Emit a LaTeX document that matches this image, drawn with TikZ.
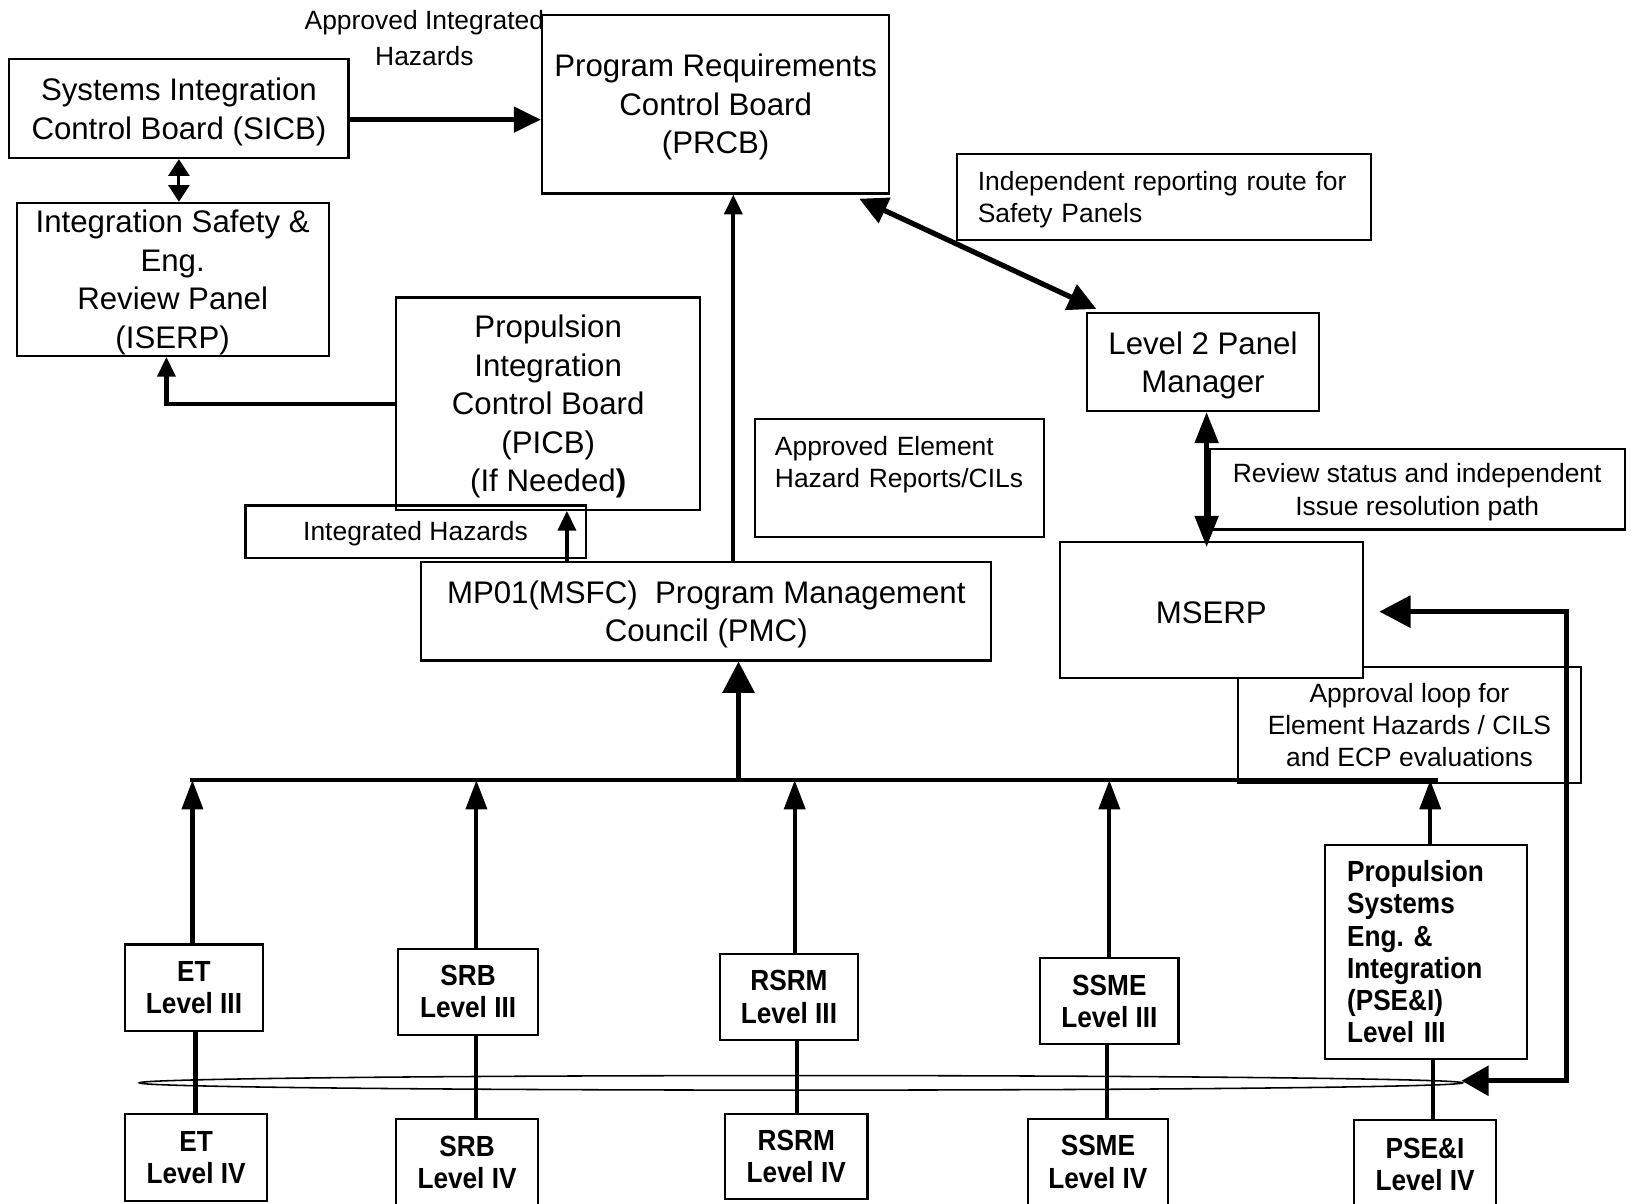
\documentclass[tikz,border=0pt]{standalone}
\usepackage{fontspec}
\setmainfont{Liberation Sans}
\newfontfamily\lvlfont[FakeStretch=0.9]{Liberation Sans Bold}
\usetikzlibrary{arrows.meta,calc}

\newcommand{\bigtxt}{\fontsize{30}{37}\selectfont}
\newcommand{\smalltxt}{\fontsize{25.4}{31}\selectfont}
\newcommand{\lvltxt}{\lvlfont\fontsize{28}{31}\selectfont}

\tikzset{
  lowtext/.style={execute at begin node={\rule{0pt}{#1}}},
  box/.style={draw, line width=2pt, align=center, inner sep=0pt, font=\bigtxt},
  board/.style={box, text depth=-2pt},
  note/.style={draw, line width=2pt, align=center, inner sep=0pt, font=\smalltxt},
  level/.style={draw, line width=2pt, align=center, inner sep=0pt, font=\lvltxt},
  flow/.style={line width=5pt, -{Triangle[length=26pt,width=24pt]}},
  bigflow/.style={line width=5pt, -{Triangle[length=30pt,width=30pt]}},
  upflow/.style={line width=4pt, -{Triangle[length=28pt,width=20pt]}},
  smallflow/.style={line width=4pt, -{Triangle[length=19pt,width=17pt]}},
  twoway/.style={line width=5pt, {Triangle[length=27pt,width=26pt]}-{Triangle[length=27pt,width=26pt]}},
}

\begin{document}
\begin{tikzpicture}[x=1pt, y=-1pt]
\useasboundingbox (0,0) rectangle (1568,1157);

% boards
\node[font=\fontsize{25.4}{35}\selectfont, align=center] (apint) at (408,36.5) {Approved Integrated\\Hazards};
\node[board, minimum width=326pt, minimum height=95pt] (sicb) at (172,104.5) {Systems Integration\\Control Board (SICB)};
\node[board, minimum width=334pt, minimum height=172pt] (prcb) at (688,100) {Program Requirements\\Control Board\\(PRCB)};
\node[board, minimum width=300pt, minimum height=147pt] (iserp) at (166,268.5) {Integration Safety \&\\Eng.\\Review Panel\\(ISERP)};
\node[board, minimum width=292pt, minimum height=204pt] (picb) at (527,388) {Propulsion\\Integration\\Control Board\\(PICB)\\(If Needed\textbf{)}};
\node[note, lowtext=23pt, minimum width=327pt, minimum height=50pt] (ihaz) at (399.5,511) {Integrated Hazards};
\node[board, minimum width=548pt, minimum height=95pt] (pmc) at (679,587.5) {MP01(MSFC)\ \ Program Management\\Council (PMC)};
\node[note, align=left, text width=240pt, inner xsep=19pt, minimum height=113pt] (aehr) at (865,459.5) {Approved Element\\Hazard Reports/CILs\\\mbox{}};
\node[note, lowtext=23.5pt, align=left, text width=358pt, inner xsep=20pt, minimum height=83pt] (route) at (1119,189.5) {Independent reporting route for\\Safety Panels};
\node[board, minimum width=223pt, minimum height=94pt] (lvltwo) at (1156.5,348) {Level 2 Panel\\Manager};
\node[note, text depth=0pt, minimum width=399pt, minimum height=77pt] (status) at (1362.5,470.5) {Review status and independent\\Issue resolution path};
\node[note, line width=1.5pt, minimum width=330pt, minimum height=112pt] (aloop) at (1355,697) {Approval loop for\\Element Hazards / CILS\\and ECP evaluations};
\node[box, lowtext=26pt, fill=white, minimum width=291pt, minimum height=131pt] (mserp) at (1164.5,586.5) {MSERP};

% elements
\node[level, minimum width=133pt, minimum height=83pt] (et3) at (186.5,949.5) {ET\\Level III};
\node[level, minimum width=134pt, minimum height=83pt] (srb3) at (450,953.5) {SRB\\Level III};
\node[level, minimum width=133pt, minimum height=83pt] (rsrm3) at (758.5,958.5) {RSRM\\Level III};
\node[level, minimum width=133pt, minimum height=83pt] (ssme3) at (1066.5,962.5) {SSME\\Level III};
\node[level, align=left, text width=152pt, inner xsep=21pt, minimum height=206pt] (pse3) at (1371,915) {Propulsion\\Systems\\Eng.\ \&\\Integration\\(PSE\&I)\\Level III};
\node[level, minimum width=137pt, minimum height=84pt] (et4) at (188.5,1113) {ET\\Level IV};
\node[level, minimum width=136pt, minimum height=83pt] (srb4) at (449,1117.5) {SRB\\Level IV};
\node[level, minimum width=137pt, minimum height=82pt] (rsrm4) at (765.5,1112) {RSRM\\Level IV};
\node[level, minimum width=135pt, minimum height=82pt] (ssme4) at (1055.5,1117) {SSME\\Level IV};
\node[level, minimum width=136pt, minimum height=85pt] (pse4) at (1370,1119.5) {PSE\&I\\Level IV};

\coordinate (busW) at (183,750);
\coordinate (busE) at (1382,750);
\coordinate (looptip) at (1405,1039);

\draw[line width=1.5pt] (770,1041) ellipse [x radius=636, y radius=7];
\draw[line width=4pt] (busW) -- (busE);

% level III up to the bus
\draw[upflow] ([xshift=-1.5pt]et3.north) -- ([xshift=-1.5pt]et3.north |- busW);
\draw[upflow] ([xshift=8pt]srb3.north) -- ([xshift=8pt]srb3.north |- busW);
\draw[upflow] ([xshift=5.5pt]rsrm3.north) -- ([xshift=5.5pt]rsrm3.north |- busW);
\draw[upflow] (ssme3.north) -- (ssme3.north |- busW);
\draw[upflow] ([xshift=4pt]pse3.north) -- ([xshift=4pt]pse3.north |- busW);

% level III to level IV
\draw[line width=4pt] ([xshift=1.5pt]et3.south) -- ([xshift=1.5pt]et3.south |- et4.north);
\draw[line width=4pt] ([xshift=8pt]srb3.south) -- ([xshift=8pt]srb3.south |- srb4.north);
\draw[line width=4pt] ([xshift=7.5pt]rsrm3.south) -- ([xshift=7.5pt]rsrm3.south |- rsrm4.north);
\draw[line width=4pt] ([xshift=-2.5pt]ssme3.south) -- ([xshift=-2.5pt]ssme3.south |- ssme4.north);
\draw[line width=4pt] ([xshift=7pt]pse3.south) -- ([xshift=7pt]pse3.south |- pse4.north);

\draw[bigflow] ([xshift=31pt]pmc.south |- busW) -- ([xshift=31pt]pmc.south);
\draw[flow] ([yshift=-10.5pt]sicb.east) -- ([yshift=-10.5pt]sicb.east -| prcb.west);
\draw[smallflow] ([xshift=17pt]prcb.south |- pmc.north) -- ([xshift=17pt]prcb.south);
\draw[smallflow] ([xshift=18pt]picb.south |- pmc.north) -- ([xshift=18pt]picb.south);
\draw[smallflow] (picb.west) -| ([xshift=-6pt]iserp.south);
\draw[line width=3pt, {Triangle[length=16pt,width=20pt]}-{Triangle[length=16pt,width=20pt]}] (sicb.south) -- (sicb.south |- iserp.north);
\draw[twoway] ($(prcb.south east)+(-30,4)$) -- ($(lvltwo.north west)+(10,-3)$);
\draw[line width=5pt, {Triangle[length=30pt,width=22pt]}-{Triangle[length=30pt,width=22pt]}] ([xshift=3.5pt]lvltwo.south) -- ([xshift=3.5pt, yshift=-6pt]lvltwo.south |- mserp.north);
\draw[line width=5pt, {Triangle[length=30pt,width=30pt]}-{Triangle[length=26pt,width=28pt]}] ($(mserp.east)+(15,1.5)$) -- ++(180,0) |- (looptip);
\end{tikzpicture}
\end{document}
